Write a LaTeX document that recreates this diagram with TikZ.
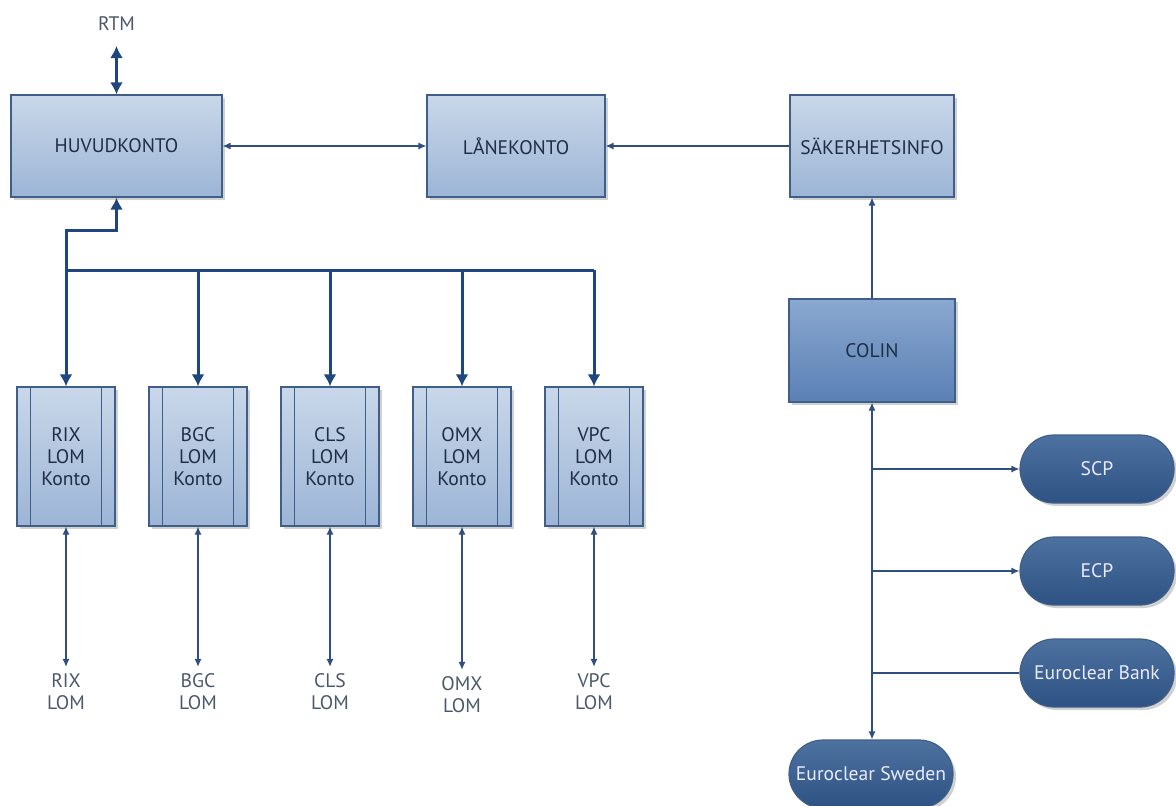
\documentclass[tikz,border=0pt]{standalone}
\usepackage{fontspec}
\setmainfont{PT Sans}
\usetikzlibrary{arrows.meta,shadows}

\definecolor{linjeblå}{HTML}{2F4F7F}
\definecolor{tjockblå}{HTML}{1F477F}
\definecolor{ramblå}{HTML}{3F5F88}
\definecolor{ljusöver}{HTML}{C9D7E9}
\definecolor{ljusunder}{HTML}{9CB5D6}
\definecolor{mellanöver}{HTML}{8AA8D0}
\definecolor{mellanunder}{HTML}{5A80B4}
\definecolor{mörköver}{HTML}{4D72A0}
\definecolor{mörkunder}{HTML}{2E5283}
\definecolor{textgrå}{HTML}{1E2E44}

\begin{document}
\begin{tikzpicture}[
    x=0.5pt, y=-0.5pt,
    font=\fontsize{9.8}{11}\selectfont,
    skugga/.style={drop shadow={shadow xshift=1.5pt, shadow yshift=-1.5pt, fill=black!30, opacity=0.6}},
    konto/.style={rectangle, draw=ramblå, line width=0.6pt, top color=ljusöver, bottom color=ljusunder,
                  text=textgrå, minimum height=51pt, inner sep=0pt, skugga},
    colinbox/.style={konto, top color=mellanöver, bottom color=mellanunder},
    lomkonto/.style={konto, minimum width=49pt, minimum height=69.5pt, align=center},
    system/.style={rectangle, rounded corners=17pt, draw=ramblå, line width=0.6pt, top color=mörköver,
                   bottom color=mörkunder, text=white!92!blue, minimum width=77pt, minimum height=34pt,
                   inner sep=0pt, skugga},
    etikett/.style={align=center, text=textgrå!80},
    tunn/.style={draw=linjeblå, line width=0.65pt},
    tjock/.style={draw=tjockblå, line width=1.5pt},
    spets/.style={-{Latex[length=4pt,width=3.6pt]}},
    tvåspets/.style={{Latex[length=4pt,width=3.6pt]}-{Latex[length=4pt,width=3.6pt]}},
    storspets/.style={-{Latex[length=6pt,width=6.5pt]}},
]
  \useasboundingbox (0,0) rectangle (1176,805);

  % övre raden
  \node[konto, minimum width=105.5pt] (huvud) at (116.5,146) {HUVUDKONTO};
  \node[konto, minimum width=89pt] (lane) at (516,146) {LÅNEKONTO};
  \node[konto, minimum width=82pt] (saker) at (872,146) {SÄKERHETSINFO};
  \node[etikett] (rtm) at (116.5,24) {RTM};

  % LOM-konton
  \node[lomkonto] (rix) at (66,456.5) {RIX\\LOM\\Konto};
  \node[lomkonto] (bgc) at (198,456.5) {BGC\\LOM\\Konto};
  \node[lomkonto] (cls) at (330,456.5) {CLS\\LOM\\Konto};
  \node[lomkonto] (omx) at (462,456.5) {OMX\\LOM\\Konto};
  \node[lomkonto] (vpc) at (594,456.5) {VPC\\LOM\\Konto};
  \foreach \k in {rix,bgc,cls,omx,vpc} {
    \draw[ramblå, line width=0.6pt] ([xshift=7pt]\k.north west) -- ([xshift=7pt]\k.south west);
    \draw[ramblå, line width=0.6pt] ([xshift=-7pt]\k.north east) -- ([xshift=-7pt]\k.south east);
  }

  % etiketter under
  \node[etikett] (rixlom) at (66,692) {RIX\\LOM};
  \node[etikett] (bgclom) at (198,692) {BGC\\LOM};
  \node[etikett] (clslom) at (330,692) {CLS\\LOM};
  \node[etikett] (omxlom) at (462,695) {OMX\\LOM};
  \node[etikett] (vpclom) at (594,692) {VPC\\LOM};

  % höger sida
  \node[colinbox, minimum width=83pt, minimum height=51.5pt] (colin) at (872,350.5) {COLIN};
  \node[system] (scp) at (1097,469) {SCP};
  \node[system] (ecp) at (1097,571) {ECP};
  \node[system] (ebank) at (1097,673) {Euroclear Bank};
  \node[system, minimum width=82pt] (esweden) at (871,774) {Euroclear Sweden};

  % samlingsskena
  \coordinate (skena) at (0,270);
  \coordinate (knick) at (66,230);
  \draw[tjock] (rix.north |- skena) -- (vpc.north |- skena);
  \draw[tjock, storspets] (rix.north |- skena) -- (knick) -| (huvud.south);
  \draw[tjock, storspets] (rix.north |- skena) -- (rix.north);
  \draw[tjock, storspets] (bgc.north |- skena) -- (bgc.north);
  \draw[tjock, storspets] (cls.north |- skena) -- (cls.north);
  \draw[tjock, storspets] (omx.north |- skena) -- (omx.north);
  \draw[tjock, storspets] (vpc.north |- skena) -- (vpc.north);
  \draw[tjock, {Latex[length=6pt,width=6.5pt]}-{Latex[length=6pt,width=6.5pt]}, shorten <=4pt] (rtm) -- (huvud);

  % tunna pilar
  \draw[tunn, tvåspets] (huvud) -- (lane);
  \draw[tunn, spets] (saker) -- (lane);
  \draw[tunn, spets] (colin) -- (saker);
  \draw[tunn, tvåspets] (rix) -- (rixlom);
  \draw[tunn, tvåspets] (bgc) -- (bgclom);
  \draw[tunn, tvåspets] (cls) -- (clslom);
  \draw[tunn, tvåspets] (omx) -- (omxlom);
  \draw[tunn, tvåspets] (vpc) -- (vpclom);

  \draw[tunn, tvåspets] (colin) -- (colin.south |- esweden.north);
  \draw[tunn, spets] (colin.south |- scp) -- (scp);
  \draw[tunn, spets] (colin.south |- ecp) -- (ecp);
  \draw[tunn] (colin.south |- ebank) -- (ebank);
\end{tikzpicture}
\end{document}
